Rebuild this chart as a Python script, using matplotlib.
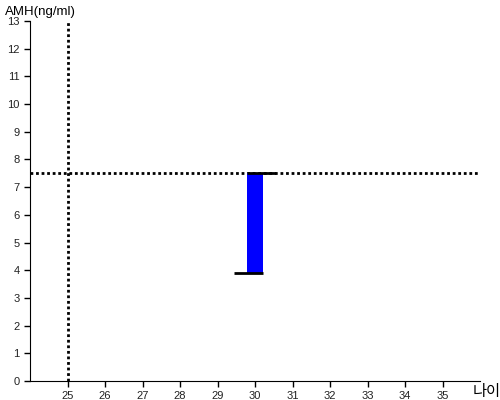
import matplotlib
matplotlib.use('Agg')
import matplotlib.pyplot as plt

# AMH range bar at the patient's age
ages = [30]
amh_low = [3.9]
amh_high = [7.5]

# reference lines
ref_age = 25
ref_amh = 7.5

x_ticks = list(range(25, 36))
y_ticks = list(range(0, 14))

plt.rcParams['font.family'] = ['Liberation Sans', 'Noto Sans CJK KR', 'DejaVu Sans']

fig = plt.figure(figsize=(5, 4), dpi=100)
ax = fig.add_axes([0.06, 0.0475, 0.90, 0.90])

bar_w = 0.43
for age, lo, hi in zip(ages, amh_low, amh_high):
    ax.bar(age, hi - lo, bottom=lo, width=bar_w, color='#0000ff', zorder=2)
    # low cap sticks out to the left, high cap to the right
    ax.hlines(lo, age - 0.55, age + bar_w / 2, color='black', lw=2, zorder=3)
    ax.hlines(hi, age - bar_w / 2, age + 0.55, color='black', lw=2, zorder=3)

ax.axhline(ref_amh, color='black', lw=2, ls=(0, (1, 1)), zorder=1)
ax.axvline(ref_age, color='black', lw=2, ls=(0, (1, 1)), zorder=1)

ax.set_xlim(24, 36)
ax.set_ylim(0, 13)
ax.set_xticks(x_ticks)
ax.set_yticks(y_ticks)
ax.tick_params(labelsize=8, length=4, width=1, colors='black')
for lbl in ax.get_xticklabels() + ax.get_yticklabels():
    lbl.set_color('#222222')

ax.spines['top'].set_visible(False)
ax.spines['right'].set_visible(False)

fig.text(0.01, 0.985, 'AMH(ng/ml)', fontsize=9.5, va='top', ha='left')
fig.text(0.945, 0.0, '나이', fontsize=11, va='bottom', ha='left',
         family=['Noto Sans CJK KR', 'DejaVu Sans'])

fig.savefig('out.png', dpi=100)
